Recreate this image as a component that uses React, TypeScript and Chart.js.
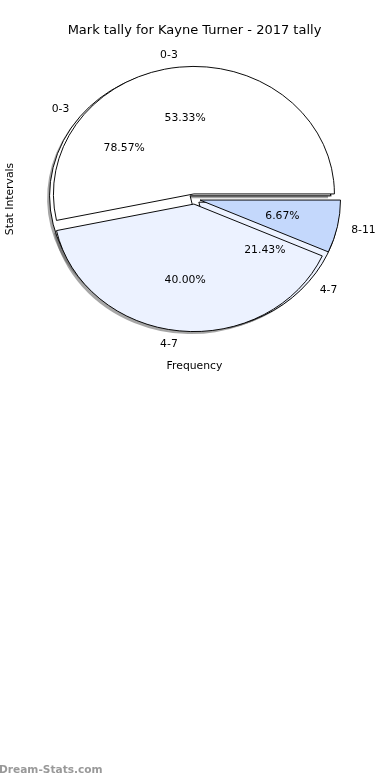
import React, { useEffect, useRef } from "react";
import { Chart, registerables } from "chart.js";

Chart.register(...registerables);

// ---- text ----
const TITLE = "Mark tally for Kayne Turner - 2017 tally";
const X_LABEL = "Frequency";
const Y_LABEL = "Stat Intervals";
const WATERMARK = "Dream-Stats.com";

// ---- back pie (drawn first, mostly hidden) ----
const backCategories = ["0-3", "4-7"];
const backCounts = [11, 3];
const backColors = ["#ffffff", "#ecf2ff"];

// ---- front pie (drawn on top) ----
const frontCategories = ["0-3", "4-7", "8-11"];
const frontCounts = [8, 6, 1];
const frontColors = ["#ffffff", "#ecf2ff", "#c4d8fc"];

// matplotlib-like pie parameters
const EXPLODE = 0.04;
const LABEL_DIST = 1.1;
const PCT_DIST = 0.6;

const FONT = "DejaVu Sans";

// matplotlib draws counter-clockwise from east; Chart.js clockwise -> reverse order
const rev = <T,>(a: T[]): T[] => a.slice().reverse();

function geom(chart: any) {
  const a = chart.chartArea;
  const cx = (a.left + a.right) / 2;
  const cy = (a.top + a.bottom) / 2;
  const rx = (a.right - a.left) / 2;
  const ry = (a.bottom - a.top) / 2;
  return { cx, cy, rx, ry, k: ry / rx };
}

const ellipsePiePlugin = {
  id: "ellipsePie",
  afterDatasetsUpdate(chart: any) {
    const { cx, cy, rx } = geom(chart);
    chart.data.datasets.forEach((_: any, di: number) => {
      const meta = chart.getDatasetMeta(di);
      meta.data.forEach((arc: any) => {
        const mid = (arc.startAngle + arc.endAngle) / 2;
        arc.x = cx + Math.cos(mid) * EXPLODE * rx;
        arc.y = cy + Math.sin(mid) * EXPLODE * rx;
        arc.innerRadius = 0;
        arc.outerRadius = rx;
      });
    });
  },
  beforeDatasetsDraw(chart: any) {
    const { ctx } = chart;
    const { cy, k } = geom(chart);
    ctx.save();
    ctx.translate(0, cy);
    ctx.scale(1, k);
    ctx.translate(0, -cy);
    // shadows (offset left / down)
    const dx = -2.5;
    const dy = 2.5 / k;
    for (let di = chart.data.datasets.length - 1; di >= 0; di--) {
      const meta = chart.getDatasetMeta(di);
      meta.data.forEach((arc: any) => {
        ctx.beginPath();
        ctx.moveTo(arc.x + dx, arc.y + dy);
        ctx.arc(arc.x + dx, arc.y + dy, arc.outerRadius, arc.startAngle, arc.endAngle);
        ctx.closePath();
        ctx.fillStyle = "rgba(77,77,77,0.5)";
        ctx.fill();
      });
    }
  },
  afterDatasetsDraw(chart: any) {
    chart.ctx.restore();
  },
  afterDraw(chart: any) {
    const { ctx } = chart;
    const { cx, cy, rx, ry } = geom(chart);
    ctx.save();
    ctx.fillStyle = "#000";
    ctx.textBaseline = "middle";
    chart.data.datasets.forEach((ds: any, di: number) => {
      const meta = chart.getDatasetMeta(di);
      const total = ds.data.reduce((s: number, v: number) => s + v, 0);
      meta.data.forEach((arc: any, i: number) => {
        const mid = (arc.startAngle + arc.endAngle) / 2;
        const c = Math.cos(mid);
        const s = Math.sin(mid);
        ctx.font = `10.8px "${FONT}"`;
        // category label
        ctx.textAlign = c > 0 ? "left" : "right";
        ctx.fillText(
          ds.cats[i],
          cx + c * (LABEL_DIST + EXPLODE) * rx,
          cy + s * (LABEL_DIST + EXPLODE) * ry + 1
        );
        // percentage
        ctx.textAlign = "center";
        ctx.fillText(
          ((ds.data[i] / total) * 100).toFixed(2) + "%",
          cx + c * (PCT_DIST + EXPLODE) * rx,
          cy + s * (PCT_DIST + EXPLODE) * ry + 0.5
        );
      });
    });
    // title
    ctx.textAlign = "center";
    ctx.font = `13px "${FONT}"`;
    ctx.fillText(TITLE, cx, 30.5);
    // axis labels
    ctx.font = `10.8px "${FONT}"`;
    ctx.fillText(X_LABEL, cx, 366.5);
    ctx.save();
    ctx.translate(10.5, cy);
    ctx.rotate(-Math.PI / 2);
    ctx.fillText(Y_LABEL, 0, 0);
    ctx.restore();
    // watermark
    ctx.textAlign = "left";
    ctx.fillStyle = "#999999";
    ctx.font = `bold 10.6px "${FONT}"`;
    ctx.fillText(WATERMARK, -1, 770.5);
    ctx.restore();
  },
};

export default function App() {
  const ref = useRef<HTMLCanvasElement>(null);
  useEffect(() => {
    document.body.style.margin = "0";
    const canvas = ref.current!;
    const common = {
      borderColor: "#000",
      borderWidth: 1,
      borderJoinStyle: "miter",
      clip: false,
    };
    const chart = new Chart(canvas, {
      type: "pie",
      data: {
        labels: rev(frontCategories),
        datasets: [
          {
            data: rev(frontCounts),
            backgroundColor: rev(frontColors),
            cats: rev(frontCategories),
            ...common,
          } as any,
          {
            data: rev(backCounts),
            backgroundColor: rev(backColors),
            cats: rev(backCategories),
            ...common,
          } as any,
        ],
      },
      options: {
        responsive: false,
        animation: false,
        rotation: 90,
        layout: { padding: { left: 54, right: 55, top: 71.5, bottom: 453.5 } },
        plugins: {
          legend: { display: false },
          tooltip: { enabled: false },
          title: { display: false },
        },
        events: [],
      } as any,
      plugins: [ellipsePiePlugin],
    });
    return () => chart.destroy();
  }, []);
  return (
    <div style={{ width: 390, height: 780, background: "#fff" }}>
      <canvas ref={ref} width={390} height={780} style={{ display: "block" }} />
    </div>
  );
}
